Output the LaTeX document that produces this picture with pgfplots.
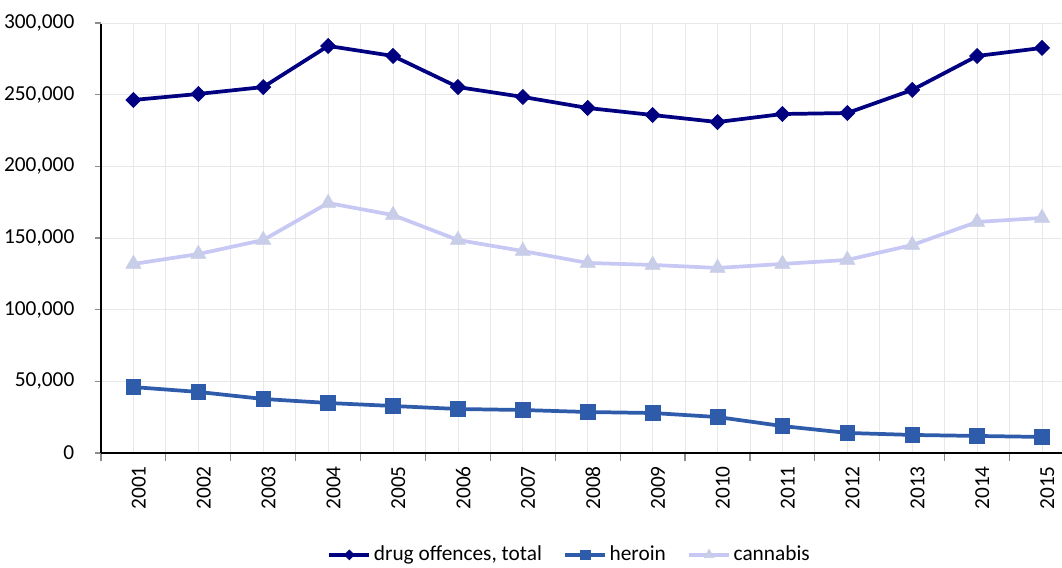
\documentclass[border=0pt]{standalone}
\usepackage{fontspec}
\setmainfont{Carlito}
\usepackage{pgfplots}
\pgfplotsset{compat=1.18}

\definecolor{totalc}{RGB}{0,0,128}
\definecolor{heroinc}{RGB}{46,92,170}
\definecolor{cannabisc}{RGB}{200,200,245}
\definecolor{cannabism}{RGB}{200,205,232}
\definecolor{gridc}{RGB}{232,232,232}

\begin{document}
\fontsize{16}{19}\selectfont
\begin{tikzpicture}
\begin{axis}[
  at={(0,0)}, anchor=south west,
  scale only axis,
  width=720.75pt, height=322.5pt,
  xmin=2000.5, xmax=2015.308,
  ymin=0, ymax=300000,
  axis x line*=bottom, axis y line*=left,
  x axis line style={-, black, line width=0.9pt},
  y axis line style={-, black, line width=0.9pt},
  xtick={2001,2002,...,2015},
  minor xtick={2000.5,2001.5,...,2014.5},
  ytick={0,50000,...,250000},
  extra y ticks={300000},
  extra y tick style={grid style={draw=black!25, line width=1.3pt}},
  grid=both,
  major grid style={draw=gridc, line width=0.6pt},
  minor grid style={draw=gridc, line width=0.6pt},
  tick align=outside,
  major tick length=4.5pt, minor tick length=6pt,
  major x tick style={draw=none},
  minor x tick style={draw=black!45, line width=0.9pt},
  major y tick style={draw=black!45, line width=0.9pt},
  scaled y ticks=false,
  /pgf/number format/assume math mode=true,
  y tick label style={/pgf/number format/fixed, /pgf/number format/1000 sep={,}, xshift=-10pt},
  x tick label style={/pgf/number format/1000 sep={}, rotate=90, anchor=east, yshift=-4pt},
  legend style={at={(0.488,-0.237)}, anchor=center, draw=none, fill=none,
    legend columns=-1, font=\fontsize{16}{19}\selectfont,
    /tikz/every even column/.append style={column sep=14pt},
    inner sep=0pt},
  legend image code/.code={%
    \draw[mark repeat=2, mark phase=2, #1, every mark/.append style={scale=0.65}]
      plot coordinates {(0pt,0pt) (15pt,0pt) (30pt,0pt)};},
]
% drug offences, total
\addplot[totalc, line width=2.8pt, mark=square*, mark size=4pt,
  mark options={rotate=45, fill=totalc, line width=0.5pt}] coordinates {
  (2001,246300) (2002,250500) (2003,255300) (2004,284000) (2005,277000)
  (2006,255300) (2007,248400) (2008,240700) (2009,235800) (2010,230900)
  (2011,236500) (2012,237200) (2013,253300) (2014,277000) (2015,282600)};
\addlegendentry{drug offences, total}
% heroin
\addplot[heroinc, line width=2.8pt, mark=square*, mark size=5.5pt,
  mark options={fill=heroinc, line width=0.5pt}] coordinates {
  (2001,46000) (2002,42600) (2003,37700) (2004,34900) (2005,32800)
  (2006,30700) (2007,30000) (2008,28600) (2009,27900) (2010,25100)
  (2011,18800) (2012,14000) (2013,12600) (2014,11900) (2015,11200)};
\addlegendentry{heroin}
% cannabis
\addplot[cannabisc, line width=2.8pt, mark=triangle*, mark size=6.5pt,
  mark options={fill=cannabism, draw=cannabism, line width=0.5pt}] coordinates {
  (2001,131900) (2002,138800) (2003,148600) (2004,174400) (2005,166000)
  (2006,148600) (2007,140900) (2008,132600) (2009,131200) (2010,129100)
  (2011,131900) (2012,134700) (2013,145100) (2014,161200) (2015,164000)};
\addlegendentry{cannabis}
\end{axis}
\pgfresetboundingbox
\useasboundingbox (-75.75pt,-85.5pt) rectangle (720.75pt,339.75pt);
\end{tikzpicture}
\end{document}
